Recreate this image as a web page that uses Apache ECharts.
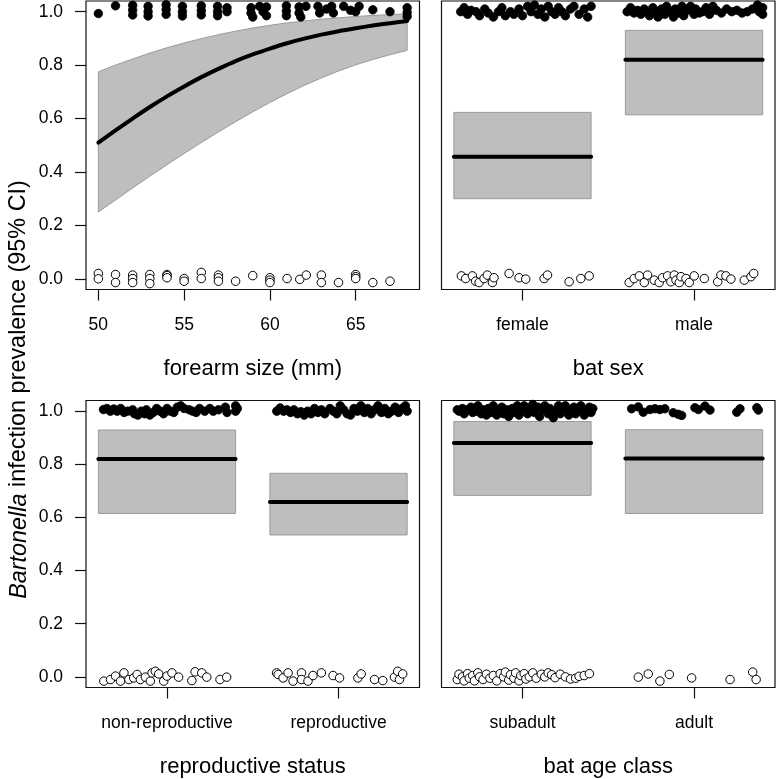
<!DOCTYPE html>
<html>
<head>
<meta charset="utf-8">
<script src="https://cdn.jsdelivr.net/npm/echarts@6/dist/echarts.min.js"></script>
<style>html,body{margin:0;padding:0;background:#fff}#c{width:776px;height:779px}</style>
</head>
<body>
<div id="c"></div>
<script>
// ---------- data ----------
const yTicks = [0, 0.2, 0.4, 0.6, 0.8, 1.0];
const forearmTicks = [50, 55, 60, 65];
const sexCats = ['female', 'male'];
const reproCats = ['non-reproductive', 'reproductive'];
const ageCats = ['subadult', 'adult'];

// panel 1: logistic fit vs forearm size
const curveX  = [50, 51, 52, 53, 54, 55, 56, 57, 58, 59, 60, 61, 62, 63, 64, 65, 66, 67, 68];
const curveFit = [0.51, 0.556, 0.60, 0.643, 0.683, 0.72, 0.755, 0.786, 0.815, 0.84, 0.862, 0.882, 0.899, 0.914, 0.927, 0.938, 0.948, 0.957, 0.965];
const curveHi  = [0.775, 0.80, 0.823, 0.845, 0.865, 0.883, 0.899, 0.914, 0.927, 0.939, 0.949, 0.958, 0.965, 0.972, 0.977, 0.982, 0.986, 0.989, 0.992];
const curveLo  = [0.25, 0.295, 0.34, 0.384, 0.427, 0.469, 0.51, 0.55, 0.588, 0.625, 0.66, 0.693, 0.724, 0.752, 0.778, 0.801, 0.821, 0.839, 0.855];

const forearmPos = [
  [50.0,0.993],[51.0,1.022],
  [52.0,1.024],[52.0,1.006],[52.0,0.988],
  [52.9,1.02],[52.9,1.0],[52.9,0.984],
  [53.95,1.026],[53.95,1.008],[53.95,0.99],
  [54.9,1.02],[54.9,1.0],[54.9,0.984],
  [56.0,1.022],[56.0,1.004],[56.0,0.988],
  [56.95,1.02],[56.95,1.0],[56.95,0.985],[57.5,1.015],[57.5,1.0],
  [58.9,1.015],[58.9,0.995],[59.0,0.98],[59.4,1.02],[59.6,1.0],[59.8,1.018],[59.8,0.985],
  [60.96,1.022],[60.96,1.003],[60.96,0.985],
  [61.7,1.018],[61.7,0.995],[62.1,1.02],[61.8,0.98],
  [62.8,1.02],[62.9,0.995],[63.3,1.01],[63.6,1.02],[63.7,0.995],
  [64.3,1.02],[64.7,1.005],[65.0,1.0],[65.2,1.02],
  [66.0,1.007],[67.0,1.0],
  [68.0,1.015],[68.0,0.997],[68.0,0.982]
];
const forearmNeg = [
  [50,0.02],[50,0.0],[51,0.016],[51,-0.014],
  [52,0.014],[52,0.001],[52,-0.014],
  [53,0.016],[53,0.001],[53,-0.018],
  [54,0.016],[54,0.012],[54,0.004],
  [55,0.001],[55,-0.009],[56,0.024],[56,0.001],
  [57,0.014],[57,0.004],[57,-0.009],
  [58,-0.009],[59,0.012],
  [60,0.004],[60,-0.005],[60,-0.014],
  [61,0.001],[61.74,-0.002],[62.12,0.014],
  [63,0.014],[63,-0.014],[64,-0.014],
  [65,0.016],[65,0.008],[65,0.001],
  [66,-0.014],[67,-0.009]
];

// panel 2: sex
const sexEst = [[1, 0.30, 0.623, 0.457], [2, 0.614, 0.930, 0.820]]; // [cat, lo, hi, mean]
const sexPos = [
  [0.64,1.0],[0.66,1.015],[0.68,0.99],[0.70,1.005],[0.73,1.0],[0.75,0.985],[0.78,1.01],[0.80,0.995],
  [0.83,0.98],[0.86,1.0],[0.88,1.015],[0.90,0.985],[0.93,1.0],[0.95,0.99],[0.98,1.01],[1.00,0.985],
  [1.03,1.02],[1.05,1.0],[1.07,1.025],[1.09,0.99],[1.11,1.01],[1.13,0.98],[1.15,1.02],[1.17,1.0],
  [1.19,0.99],[1.21,1.015],[1.23,1.0],[1.25,0.985],[1.28,1.01],[1.30,1.02],[1.33,0.99],[1.36,1.01],
  [1.38,0.98],[1.40,1.02],
  [1.61,1.0],[1.63,1.015],[1.65,0.995],[1.67,1.005],[1.69,0.99],[1.71,1.01],[1.72,1.0],[1.74,0.985],
  [1.76,1.015],[1.78,1.0],[1.79,0.98],[1.81,1.01],[1.83,0.99],[1.84,1.02],[1.86,1.0],[1.88,0.98],
  [1.89,1.01],[1.91,0.995],[1.93,1.02],[1.94,0.985],[1.96,1.005],[1.98,1.02],[2.0,0.99],[2.01,1.01],
  [2.03,0.995],[2.05,1.0],[2.07,1.015],[2.09,0.99],[2.11,1.02],[2.13,1.005],[2.16,0.995],[2.19,1.01],
  [2.22,1.0],[2.25,1.005],[2.28,0.995],[2.31,1.0],[2.34,1.01],[2.37,1.025],[2.38,1.0],[2.40,1.015],[2.40,0.99]
];
const sexNeg = [
  [0.644,0.011],[0.669,0.001],[0.708,0.011],[0.727,-0.009],[0.747,-0.014],[0.776,0.001],[0.795,0.014],
  [0.825,-0.014],[0.834,0.004],[0.922,0.020],[0.98,0.004],[1.019,-0.001],[1.126,0.001],[1.146,0.014],
  [1.272,-0.011],[1.34,0.001],[1.389,0.011],
  [1.622,-0.014],[1.651,0.001],[1.681,0.011],[1.71,-0.014],[1.729,0.014],[1.768,-0.005],[1.797,-0.014],
  [1.817,0.004],[1.846,0.011],[1.865,-0.011],[1.885,0.014],[1.895,-0.005],[1.914,-0.014],[1.924,0.008],
  [1.953,0.001],[1.972,-0.014],[2.001,0.011],[2.06,0.001],[2.138,-0.011],[2.157,0.014],[2.186,0.011],
  [2.215,-0.001],[2.293,-0.005],[2.332,0.008],[2.348,0.020]
];

// panel 3: reproductive status
const reproEst = [[1, 0.615, 0.929, 0.820], [2, 0.534, 0.766, 0.658]];
const reproPos = [
  [0.63,1.006],[0.65,1.01],[0.67,1.0],[0.69,1.008],[0.71,1.0],[0.73,1.01],[0.75,0.995],[0.77,1.0],
  [0.80,1.005],[0.81,0.99],[0.83,0.985],[0.85,1.0],[0.87,0.99],[0.88,1.005],[0.90,0.985],[0.92,0.995],
  [0.94,1.01],[0.96,1.0],[0.98,0.99],[1.0,1.01],[1.02,1.0],[1.04,0.995],[1.06,1.015],[1.08,1.02],
  [1.10,1.01],[1.13,1.005],[1.15,1.0],[1.17,0.995],[1.19,1.01],[1.22,1.0],[1.25,1.01],[1.27,1.0],
  [1.30,1.005],[1.34,1.015],[1.35,0.995],[1.40,1.02],[1.40,1.0],[1.41,1.01],
  [1.64,1.0],[1.66,1.012],[1.68,1.0],[1.70,1.005],[1.72,0.995],[1.74,1.005],[1.76,0.99],[1.78,0.998],
  [1.80,0.985],[1.82,1.0],[1.84,0.99],[1.86,1.01],[1.88,0.995],[1.90,1.005],[1.92,0.99],[1.95,1.01],
  [1.97,1.0],[1.99,0.99],[2.01,1.02],[2.03,1.005],[2.05,0.99],[2.07,0.985],[2.09,1.01],[2.11,1.0],
  [2.13,1.02],[2.15,0.995],[2.17,1.01],[2.19,0.99],[2.21,1.005],[2.23,1.02],[2.25,0.995],[2.27,1.01],
  [2.29,0.99],[2.31,1.0],[2.33,1.015],[2.35,0.995],[2.37,1.01],[2.39,1.02],[2.40,1.0]
];
const reproNeg = [
  [0.632,-0.016],[0.671,-0.010],[0.700,0.003],[0.729,-0.016],[0.749,0.015],[0.778,-0.010],[0.806,-0.004],
  [0.826,0.009],[0.845,-0.010],[0.874,-0.001],[0.903,-0.016],[0.913,0.015],[0.932,0.021],[0.952,0.011],
  [0.981,-0.016],[1.0,0.003],[1.029,0.015],[1.068,-0.001],[1.145,-0.014],[1.164,0.019],[1.203,0.015],
  [1.232,-0.001],[1.309,-0.010],[1.348,-0.001],
  [1.639,0.015],[1.648,0.009],[1.677,-0.004],[1.706,0.015],[1.735,-0.016],[1.784,0.015],[1.784,-0.010],
  [1.822,-0.016],[1.851,0.005],[1.90,0.015],[1.968,0.005],[2.006,-0.004],[2.113,-0.004],[2.132,0.011],
  [2.21,-0.010],[2.258,-0.014],[2.326,-0.001],[2.345,0.021],[2.355,-0.010],[2.374,0.011]
];

// panel 4: age class
const ageEst = [[1, 0.683, 0.961, 0.880], [2, 0.615, 0.930, 0.822]];
const agePos = [
  [0.62,1.005],[0.63,1.0],[0.65,1.01],[0.66,0.99],[0.68,1.005],[0.70,1.015],[0.71,0.995],[0.73,1.0],
  [0.74,1.02],[0.76,0.99],[0.77,1.005],[0.79,0.985],[0.80,1.01],[0.82,0.995],[0.83,1.02],[0.85,0.985],
  [0.86,1.0],[0.88,1.015],[0.89,0.99],[0.91,1.005],[0.92,0.98],[0.94,1.01],[0.95,0.995],[0.97,1.02],
  [0.98,0.985],[1.00,1.005],[1.01,1.02],[1.03,0.99],[1.04,1.01],[1.06,1.025],[1.07,0.995],[1.09,1.015],
  [1.10,0.98],[1.12,1.005],[1.13,1.02],[1.15,0.99],[1.16,1.01],[1.18,0.975],[1.19,1.0],[1.21,1.02],
  [1.22,0.99],[1.24,1.005],[1.25,1.02],[1.27,0.985],[1.28,1.0],[1.30,1.015],[1.31,0.99],[1.33,1.005],
  [1.34,1.02],[1.36,0.985],[1.37,1.0],[1.39,1.015],[1.40,0.995],[1.41,1.01],
  [1.636,1.009],[1.675,1.016],[1.704,0.996],[1.743,1.006],[1.772,1.009],[1.801,1.006],[1.830,1.009],
  [1.879,0.994],[1.908,0.988],[1.928,0.984],[2.005,1.013],[2.025,1.006],[2.064,1.019],[2.093,1.004],
  [2.249,0.996],[2.268,1.009],[2.366,1.013],[2.375,1.004]
];
const ageNeg = [
  [0.62,-0.01],[0.63,0.01],[0.65,0.0],[0.66,-0.015],[0.68,0.012],[0.69,-0.005],[0.71,0.005],[0.72,-0.015],
  [0.74,0.015],[0.75,0.0],[0.77,-0.01],[0.79,0.01],[0.81,-0.005],[0.83,0.005],[0.85,-0.015],[0.87,0.012],
  [0.89,0.0],[0.90,0.018],[0.92,-0.012],[0.93,0.008],[0.95,-0.005],[0.96,0.015],[0.98,-0.015],[0.99,0.005],
  [1.01,0.012],[1.02,-0.008],[1.04,0.0],[1.06,0.015],[1.08,-0.005],[1.11,0.01],[1.13,0.0],[1.15,0.015],
  [1.17,0.008],[1.19,-0.003],[1.22,0.01],[1.25,0.0],[1.28,-0.008],[1.31,-0.005],[1.33,0.002],[1.36,0.005],
  [1.39,0.012],
  [1.675,-0.001],[1.733,0.011],[1.801,-0.016],[1.856,0.009],[1.986,-0.004],[2.210,-0.010],[2.342,0.018],[2.362,-0.010]
];

// ---------- chart ----------
const FONT = '"Liberation Sans", Arial, Helvetica, sans-serif';
const TICK_FS = 17.5, NAME_FS = 22, YLAB_FS = 23.4;
const Y_MIN = -0.04, Y_MAX = 1.04;
const CAT_MIN = 0.528, CAT_MAX = 2.472;
const grids = [
  {left: 86, top: 1, width: 333.5, height: 288.5},
  {left: 441.5, top: 1, width: 333.5, height: 288.5},
  {left: 86, top: 400.5, width: 333.5, height: 289},
  {left: 441.5, top: 400.5, width: 333.5, height: 289}
].map(g => Object.assign(g, {show: true, borderColor: '#111', borderWidth: 1.2, backgroundColor: 'transparent'}));

function xAx(gi, min, max, ticks, fmt, name) {
  return {
    type: 'value', gridIndex: gi, min: min, max: max, position: 'bottom',
    axisLine: {show: false, onZero: false}, splitLine: {show: false},
    axisTick: {show: true, length: 11, inside: false, customValues: ticks, lineStyle: {color: '#111', width: 1.2}},
    axisLabel: {show: true, customValues: ticks, formatter: fmt, color: '#000', fontSize: TICK_FS, fontFamily: FONT, margin: 26.5},
    name: name, nameLocation: 'middle', nameGap: 68.5,
    nameTextStyle: {color: '#000', fontSize: NAME_FS, fontFamily: FONT}
  };
}
function yAx(gi, labelled) {
  return {
    type: 'value', gridIndex: gi, min: Y_MIN, max: Y_MAX, position: 'left',
    axisLine: {show: false, onZero: false}, splitLine: {show: false},
    axisTick: {show: labelled, length: 11, inside: false, customValues: yTicks, lineStyle: {color: '#111', width: 1.2}},
    axisLabel: {show: labelled, customValues: yTicks, formatter: v => v.toFixed(1), color: '#000', fontSize: TICK_FS, fontFamily: FONT, margin: 23}
  };
}
const catFmt = cats => (v => cats[Math.round(v) - 1] || '');

function ribbonSeries() {
  return {
    type: 'custom', xAxisIndex: 0, yAxisIndex: 0, data: [[curveX[0], curveLo[0]]], silent: true, z: 1,
    renderItem: function (params, api) {
      const pts = [];
      for (let i = 0; i < curveX.length; i++) pts.push(api.coord([curveX[i], curveHi[i]]));
      for (let i = curveX.length - 1; i >= 0; i--) pts.push(api.coord([curveX[i], curveLo[i]]));
      return {type: 'polygon', shape: {points: pts}, style: {fill: '#bebebe', stroke: '#9a9a9a', lineWidth: 1, lineJoin: 'miter'}};
    }
  };
}
function boxSeries(gi, est) {
  return {
    type: 'custom', xAxisIndex: gi, yAxisIndex: gi, data: est, silent: true, z: 1,
    encode: {x: 0, y: [1, 2, 3]},
    renderItem: function (params, api) {
      const c = api.value(0), lo = api.value(1), hi = api.value(2), m = api.value(3);
      const p1 = api.coord([c - 0.4, hi]), p2 = api.coord([c + 0.4, lo]);
      const m1 = api.coord([c - 0.4, m]), m2 = api.coord([c + 0.4, m]);
      return {type: 'group', children: [
        {type: 'rect', shape: {x: p1[0], y: p1[1], width: p2[0] - p1[0], height: p2[1] - p1[1]},
         style: {fill: '#bebebe', stroke: '#9a9a9a', lineWidth: 1}},
        {type: 'line', shape: {x1: m1[0], y1: m1[1], x2: m2[0], y2: m2[1]},
         style: {stroke: '#000', lineWidth: 4, lineCap: 'round'}}
      ]};
    }
  };
}
function pts(gi, data, filled) {
  return {
    type: 'scatter', xAxisIndex: gi, yAxisIndex: gi, data: data, symbol: 'circle', symbolSize: 8.5, z: 5,
    silent: true,
    itemStyle: filled ? {color: '#000', borderColor: '#000', borderWidth: 0.8, opacity: 1}
                      : {color: '#fff', borderColor: '#000', borderWidth: 1, opacity: 1}
  };
}

const chart = echarts.init(document.getElementById('c'), null, {renderer: 'canvas'});
chart.setOption({
  animation: false,
  backgroundColor: '#fff',
  grid: grids,
  xAxis: [
    xAx(0, 49.28, 68.72, forearmTicks, v => String(v), 'forearm size (mm)'),
    xAx(1, CAT_MIN, CAT_MAX, [1, 2], catFmt(sexCats), 'bat sex'),
    xAx(2, CAT_MIN, CAT_MAX, [1, 2], catFmt(reproCats), 'reproductive status'),
    xAx(3, CAT_MIN, CAT_MAX, [1, 2], catFmt(ageCats), 'bat age class')
  ],
  yAxis: [yAx(0, true), yAx(1, false), yAx(2, true), yAx(3, false)],
  graphic: [{
    type: 'text', x: 19, y: 389.5, rotation: Math.PI / 2,
    style: {
      text: '{i|Bartonella} infection prevalence (95% CI)',
      rich: {i: {fontStyle: 'italic', fontSize: YLAB_FS, fontFamily: FONT, fill: '#000'}},
      fontSize: YLAB_FS, fontFamily: FONT, fill: '#000', align: 'center', verticalAlign: 'middle'
    }
  }],
  series: [
    ribbonSeries(),
    {type: 'line', xAxisIndex: 0, yAxisIndex: 0, data: curveX.map((x, i) => [x, curveFit[i]]),
     showSymbol: false, symbol: 'none', smooth: 0.3, lineStyle: {color: '#000', width: 4, cap: 'round'}, z: 3, silent: true},
    pts(0, forearmPos, true), pts(0, forearmNeg, false),
    boxSeries(1, sexEst), pts(1, sexPos, true), pts(1, sexNeg, false),
    boxSeries(2, reproEst), pts(2, reproPos, true), pts(2, reproNeg, false),
    boxSeries(3, ageEst), pts(3, agePos, true), pts(3, ageNeg, false)
  ]
});
</script>
</body>
</html>
